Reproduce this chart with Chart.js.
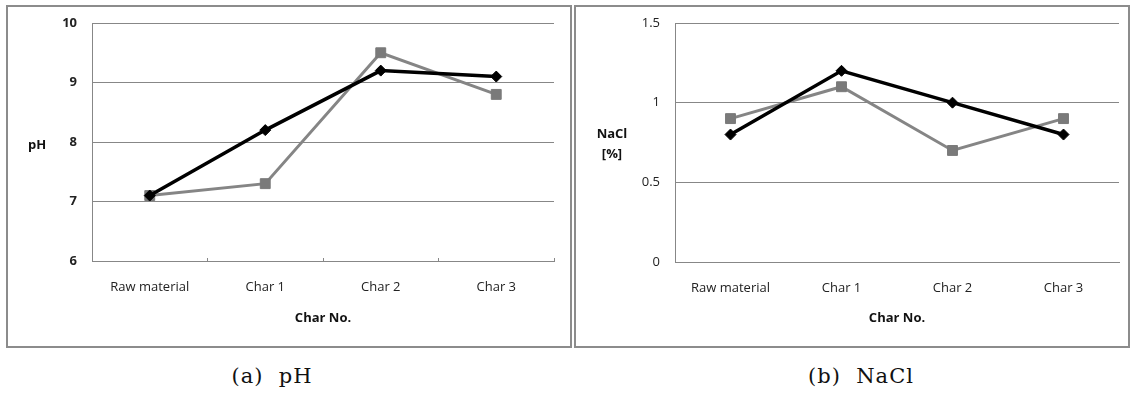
<!DOCTYPE html>
<html>
<head>
<meta charset="utf-8">
<script src="https://cdn.jsdelivr.net/npm/chart.js@4/dist/chart.umd.min.js"></script>
<style>
  html, body { margin:0; padding:0; background:#fff; }
  body { width:1133px; height:394px; position:relative; overflow:hidden; }
  .panel { position:absolute; box-sizing:border-box; border:2px solid #8c8c8c; }
  canvas { position:absolute; }
  .cap { position:absolute; font-family:"DejaVu Serif","Liberation Serif",serif; font-size:21px; color:#111; white-space:pre; letter-spacing:1px; transform:translateX(-50%); }
</style>
</head>
<body>
<div class="panel" style="left:6px;top:5px;width:566px;height:343px;"></div>
<div class="panel" style="left:574px;top:5px;width:556px;height:343px;"></div>
<canvas id="c1" width="562" height="339" style="left:8px;top:7px;width:562px;height:339px;"></canvas>
<canvas id="c2" width="551" height="339" style="left:576px;top:7px;width:551px;height:339px;"></canvas>
<div class="cap" style="left:272px;top:364px;">(a)  pH</div>
<div class="cap" style="left:861px;top:364px;">(b)  NaCl</div>
<script>
const categories = ['Raw material', 'Char 1', 'Char 2', 'Char 3'];
const phBlack = [7.1, 8.2, 9.2, 9.1];
const phGray = [7.1, 7.3, 9.5, 8.8];
const naclBlack = [0.8, 1.2, 1.0, 0.8];
const naclGray = [0.9, 1.1, 0.7, 0.9];
const phTickRange = [6, 10, 1];
const naclTickRange = [0, 1.5, 0.5];
const xTitle = 'Char No.';
const phTitle = ['pH'];
const naclTitle = ['NaCl', '[%]'];

const FONT = '"Open Sans", "Liberation Sans", sans-serif';
const GRID = '#878787';

const hTitlePlugin = {
  id: 'hTitle',
  afterDraw(chart, args, opts) {
    const ctx = chart.ctx;
    ctx.save();
    ctx.font = 'bold 13px ' + FONT;
    ctx.fillStyle = '#111';
    ctx.textAlign = 'center';
    ctx.textBaseline = 'middle';
    opts.lines.forEach((t, i) => ctx.fillText(t, opts.x, opts.y + i * opts.lh));
    ctx.restore();
  }
};

function makeChart(id, black, gray, range, yBold, yWidth, padRight, xH, titleOpts, xTicks) {
  return new Chart(document.getElementById(id), {
    type: 'line',
    data: {
      labels: categories,
      datasets: [
        { data: black, borderColor: '#000', backgroundColor: '#000', borderWidth: 3.5,
          pointStyle: 'rectRot', pointRadius: 5.5, pointHoverRadius: 5.5, pointBorderWidth: 1,
          pointBorderColor: '#000', pointBackgroundColor: '#000', tension: 0 },
        { data: gray, borderColor: '#858585', backgroundColor: '#7a7a7a', borderWidth: 3,
          pointStyle: 'rect', pointRadius: 7, pointHoverRadius: 7, pointBorderWidth: 1,
          pointBorderColor: '#7a7a7a', pointBackgroundColor: '#7a7a7a', tension: 0 }
      ]
    },
    options: {
      responsive: false,
      animation: false,
      devicePixelRatio: 1,
      layout: { padding: { top: 16, right: padRight, left: 0, bottom: 0 } },
      plugins: { legend: { display: false }, tooltip: { enabled: false }, hTitle: titleOpts },
      scales: {
        x: {
          type: 'category',
          offset: true,
          grid: { display: true, offset: true, drawOnChartArea: false, drawTicks: xTicks,
                  tickLength: xTicks ? -3 : 0, color: GRID, lineWidth: 1 },
          border: { display: true, color: GRID, width: 1 },
          ticks: { font: { family: FONT, size: 13 }, color: '#222', padding: xTicks ? 21 : 18, maxRotation: 0, autoSkip: false },
          title: { display: true, text: xTitle, font: { family: FONT, size: 13, weight: 'bold' }, color: '#111', padding: { top: 0, bottom: 20 } },
          afterFit(s) { s.height = xH; s.paddingLeft = 0; s.paddingRight = 0; }
        },
        y: {
          min: range[0], max: range[1],
          grid: { color: GRID, lineWidth: 1, drawTicks: false },
          border: { display: true, color: GRID, width: 1 },
          ticks: { stepSize: range[2], padding: 15, font: { family: FONT, size: 13, weight: yBold ? 'bold' : 'normal' }, color: '#222',
                   callback: (v) => String(Math.round(v * 10) / 10) },
          afterFit(s) { s.width = yWidth; s.paddingTop = 0; s.paddingBottom = 0; }
        }
      }
    },
    plugins: [hTitlePlugin]
  });
}

makeChart('c1', phBlack, phGray, phTickRange, true, 84, 16, 85, { lines: phTitle, x: 29, y: 138, lh: 19 }, true);
makeChart('c2', naclBlack, naclGray, naclTickRange, false, 99, 4, 84, { lines: naclTitle, x: 36, y: 127, lh: 20 }, false);
</script>
</body>
</html>
